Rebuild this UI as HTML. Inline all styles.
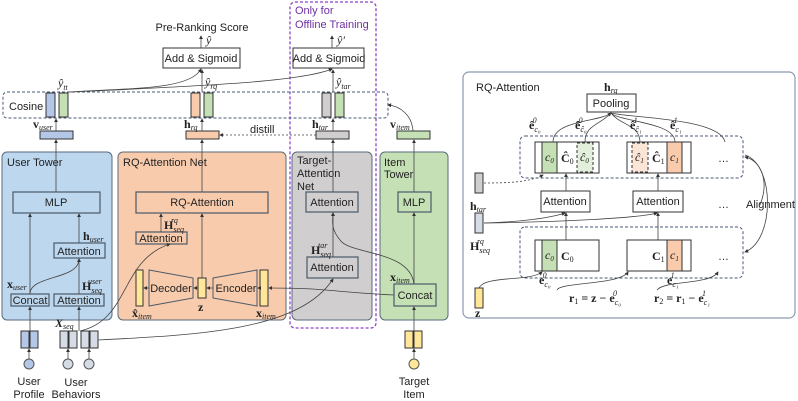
<!DOCTYPE html>
<html><head><meta charset="utf-8"><style>
html,body{margin:0;padding:0;background:#fff;}
svg{display:block;font-family:"Liberation Sans",sans-serif;}
.t{font-size:11px;fill:#222;}
.m{font-family:"Liberation Serif",serif;font-size:12px;fill:#222;}
.b{font-weight:bold;}
.i{font-style:italic;}
.s{font-size:8px;font-style:italic;}
.ln{stroke:#444;stroke-width:0.8;fill:none;}
.bx{fill:none;stroke:#4a5a6a;stroke-width:1.2;}
</style></head><body>
<svg width="798" height="401" viewBox="0 0 798 401" xmlns="http://www.w3.org/2000/svg">
<defs><marker id="a" markerWidth="5" markerHeight="5" refX="4" refY="2.5" orient="auto"><path d="M0,0L5,2.5L0,5z" fill="#333"/></marker></defs>

<!-- towers -->
<rect x="2" y="152" width="110" height="168" rx="5" fill="#bdd7ee" stroke="#5a6b7c"/>
<rect x="118" y="152" width="168" height="168" rx="5" fill="#f8cbad" stroke="#5a6b7c"/>
<rect x="292" y="152" width="80" height="168" rx="5" fill="#d0cece" stroke="#5a6b7c"/>
<rect x="380" y="152" width="68" height="168" rx="5" fill="#c5e0b4" stroke="#5a6b7c"/>
<text class="t" x="7" y="166" font-size="12">User Tower</text>
<text class="t" x="123" y="166" font-size="12">RQ-Attention Net</text>
<text class="t" x="297" y="164">Target-</text><text class="t" x="297" y="177">Attention</text><text class="t" x="297" y="190">Net</text>
<text class="t" x="384" y="166">Item</text><text class="t" x="384" y="178">Tower</text>

<!-- purple dashed -->
<rect x="290" y="2" width="86" height="326" rx="5" fill="none" stroke="#8e44c8" stroke-width="1.3" stroke-dasharray="3,2"/>
<text x="295" y="14" font-size="11" fill="#7030a0">Only for</text>
<text x="295" y="28" font-size="11" fill="#7030a0">Offline Training</text>

<!-- top -->
<text class="t" x="202" y="31" text-anchor="middle" font-size="10">Pre-Ranking Score</text>
<rect x="163" y="48" width="77" height="20" fill="#fff" stroke="#333"/>
<text class="t" x="201" y="62" text-anchor="middle">Add &amp; Sigmoid</text>
<rect x="293" y="48" width="71" height="20" fill="#fff" stroke="#333"/>
<text class="t" x="329" y="62" text-anchor="middle">Add &amp; Sigmoid</text>
<line class="ln" x1="201" y1="48" x2="201" y2="36" marker-end="url(#a)"/>
<line class="ln" x1="332" y1="48" x2="332" y2="36" marker-end="url(#a)"/>
<text class="m i" x="206" y="44">ŷ</text><text class="m i" x="337" y="44">ŷ′</text>

<!-- cosine -->
<rect x="3" y="92" width="385" height="26" rx="4" fill="none" stroke="#4a5a7a" stroke-dasharray="3,2"/>
<text class="t" x="9" y="110">Cosine</text>
<rect x="46" y="93" width="9" height="24" fill="#b4c7e7" stroke="#333"/>
<rect x="59" y="93" width="9" height="24" fill="#c5e0b4" stroke="#333"/>
<rect x="191" y="93" width="9" height="24" fill="#f8cbad" stroke="#333"/>
<rect x="204" y="93" width="9" height="24" fill="#c5e0b4" stroke="#333"/>
<rect x="322" y="93" width="9" height="24" fill="#d0cece" stroke="#333"/>
<rect x="335" y="93" width="9" height="24" fill="#c5e0b4" stroke="#333"/>
<text class="m i" x="58" y="87">ŷ<tspan class="s" dy="3">tt</tspan></text>
<text class="m i" x="205" y="86">ŷ<tspan class="s" dy="3">rq</tspan></text>
<text class="m i" x="336" y="86">ŷ<tspan class="s" dy="3">tar</tspan></text>
<path class="ln" d="M70,92 C130,88 190,90 201,69" marker-end="url(#a)"/>
<path class="ln" d="M70,92 C200,86 300,82 332,69" marker-end="url(#a)"/>
<line class="ln" x1="202" y1="92" x2="202" y2="70" marker-end="url(#a)"/>
<line class="ln" x1="333" y1="92" x2="333" y2="70" marker-end="url(#a)"/>

<!-- small vectors -->
<rect x="40" y="131" width="33" height="8" fill="#b4c7e7" stroke="#333"/>
<rect x="186" y="131" width="33" height="8" fill="#f8cbad" stroke="#333"/>
<rect x="316" y="131" width="33" height="8" fill="#d0cece" stroke="#333"/>
<rect x="397" y="131" width="33" height="8" fill="#c5e0b4" stroke="#333"/>
<text class="m b" x="33" y="128">v<tspan class="s" font-weight="normal" dy="2">user</tspan></text>
<text class="m b" x="184" y="128">h<tspan class="s" font-weight="normal" dy="2">rq</tspan></text>
<text class="m b" x="312" y="128">h<tspan class="s" font-weight="normal" dy="2">tar</tspan></text>
<text class="m b" x="390" y="128">v<tspan class="s" font-weight="normal" dy="2">item</tspan></text>
<line class="ln" x1="56" y1="131" x2="56" y2="119" marker-end="url(#a)"/>
<line class="ln" x1="202" y1="131" x2="202" y2="119" marker-end="url(#a)"/>
<line class="ln" x1="333" y1="131" x2="333" y2="119" marker-end="url(#a)"/>
<path class="ln" d="M413,131 C412,115 400,106 388,105" marker-end="url(#a)"/>
<line class="ln" x1="316" y1="135" x2="220" y2="135" stroke-dasharray="2,2" marker-end="url(#a)"/>
<text class="t" x="250" y="133">distill</text>
<line class="ln" x1="56" y1="192" x2="56" y2="140" marker-end="url(#a)"/>
<line class="ln" x1="202" y1="192" x2="202" y2="140" marker-end="url(#a)"/>
<line class="ln" x1="333" y1="192" x2="333" y2="140" marker-end="url(#a)"/>
<line class="ln" x1="414" y1="192" x2="414" y2="140" marker-end="url(#a)"/>

<!-- user tower -->
<rect x="13" y="192" width="87" height="21" class="bx"/><text class="t" x="56" y="206" text-anchor="middle">MLP</text>
<rect x="54" y="243" width="51" height="15" class="bx"/><text class="t" x="79" y="255" text-anchor="middle">Attention</text>
<rect x="11" y="294" width="38" height="12" class="bx"/><text class="t" x="30" y="304" text-anchor="middle">Concat</text>
<rect x="54" y="294" width="50" height="12" class="bx"/><text class="t" x="79" y="304" text-anchor="middle">Attention</text>
<line class="ln" x1="30" y1="294" x2="30" y2="214" marker-end="url(#a)"/>
<line class="ln" x1="79" y1="243" x2="79" y2="214" marker-end="url(#a)"/>
<line class="ln" x1="79" y1="294" x2="79" y2="259" marker-end="url(#a)"/>
<path class="ln" d="M30,294 C30,275 79,280 79,259" marker-end="url(#a)"/>
<text class="m b" x="83" y="240">h<tspan class="s" font-weight="normal" dy="2">user</tspan></text>
<text class="m b" x="7" y="288">x<tspan class="s" font-weight="normal" dy="2">user</tspan></text>
<text class="m b" x="82" y="290">H<tspan class="s" font-weight="normal" dy="3">seq</tspan><tspan class="s" font-weight="normal" dx="-14" dy="-9">user</tspan></text>

<!-- RQ net -->
<rect x="136" y="192" width="132" height="21" class="bx"/><text class="t" x="202" y="206" text-anchor="middle">RQ-Attention</text>
<rect x="136" y="232" width="51" height="12" class="bx"/><text class="t" x="161" y="242" text-anchor="middle">Attention</text>
<line class="ln" x1="161" y1="232" x2="161" y2="214" marker-end="url(#a)"/>
<line class="ln" x1="202" y1="278" x2="202" y2="214" marker-end="url(#a)"/>
<text class="m b" x="164" y="229">H<tspan class="s" font-weight="normal" dy="3">seq</tspan><tspan class="s" font-weight="normal" dx="-13" dy="-9">rq</tspan></text>
<rect x="136" y="270" width="7" height="36" fill="#ffe699" stroke="#333"/>
<polygon points="149,270 193,278 193,298 149,306" fill="#f8cbad" stroke="#4a5a6a"/>
<text class="t" x="171" y="292" text-anchor="middle" font-size="12">Decoder</text>
<rect x="198" y="278" width="8" height="20" fill="#ffe699" stroke="#333"/>
<polygon points="213,278 257,270 257,306 213,298" fill="#f8cbad" stroke="#4a5a6a"/>
<text class="t" x="236" y="292" text-anchor="middle" font-size="12">Encoder</text>
<rect x="260" y="270" width="8" height="36" fill="#ffe699" stroke="#333"/>
<line class="ln" x1="149" y1="288" x2="144" y2="288" marker-end="url(#a)"/>
<line class="ln" x1="198" y1="288" x2="194" y2="288" marker-end="url(#a)"/>
<line class="ln" x1="213" y1="288" x2="207" y2="288" marker-end="url(#a)"/>
<line class="ln" x1="260" y1="288" x2="258" y2="288" marker-end="url(#a)"/>
<text class="m b" x="132" y="317">x̂<tspan class="s" font-weight="normal" dy="2">item</tspan></text>
<text class="m b" x="198" y="311">z</text>
<text class="m b" x="256" y="317">x<tspan class="s" font-weight="normal" dy="2">item</tspan></text>

<!-- target net -->
<rect x="306" y="192" width="52" height="20" class="bx"/><text class="t" x="332" y="206" text-anchor="middle">Attention</text>
<rect x="307" y="257" width="51" height="21" class="bx"/><text class="t" x="332" y="271" text-anchor="middle">Attention</text>
<line class="ln" x1="333" y1="257" x2="333" y2="213" marker-end="url(#a)"/>
<text class="m b" x="311" y="254">H<tspan class="s" font-weight="normal" dy="3">seq</tspan><tspan class="s" font-weight="normal" dx="-13" dy="-9">tar</tspan></text>

<!-- item tower -->
<rect x="398" y="192" width="33" height="20" class="bx"/><text class="t" x="414" y="206" text-anchor="middle">MLP</text>
<rect x="394" y="284" width="42" height="22" class="bx"/><text class="t" x="415" y="299" text-anchor="middle">Concat</text>
<line class="ln" x1="414" y1="284" x2="414" y2="213" marker-end="url(#a)"/>
<text class="m b" x="390" y="281">x<tspan class="s" font-weight="normal" dy="2">item</tspan></text>
<path class="ln" d="M394,295 C330,292 330,288 269,288" marker-end="url(#a)"/>
<path class="ln" d="M414,284 C410,250 350,255 340,240 C330,228 333,220 333,213" marker-end="url(#a)"/>

<!-- inputs -->
<rect x="21" y="331" width="8" height="17" fill="#b4c7e7" stroke="#333"/><rect x="30" y="331" width="8" height="17" fill="#b4c7e7" stroke="#333"/>
<rect x="60" y="331" width="8" height="17" fill="#d6dce5" stroke="#333"/><rect x="69" y="331" width="8" height="17" fill="#d6dce5" stroke="#333"/>
<rect x="81" y="331" width="8" height="17" fill="#d6dce5" stroke="#333"/><rect x="90" y="331" width="8" height="17" fill="#d6dce5" stroke="#333"/>
<rect x="405" y="331" width="8" height="17" fill="#ffe699" stroke="#333"/><rect x="414" y="331" width="8" height="17" fill="#ffe699" stroke="#333"/>
<circle cx="29" cy="364" r="5" fill="#b4c7e7" stroke="#555"/>
<circle cx="68" cy="364" r="5" fill="#d6dce5" stroke="#555"/>
<circle cx="89" cy="364" r="5" fill="#d6dce5" stroke="#555"/>
<circle cx="414" cy="364" r="5" fill="#ffe699" stroke="#555"/>
<line class="ln" x1="29" y1="359" x2="29" y2="349" marker-end="url(#a)"/>
<line class="ln" x1="68" y1="359" x2="68" y2="349" marker-end="url(#a)"/>
<line class="ln" x1="89" y1="359" x2="89" y2="349" marker-end="url(#a)"/>
<line class="ln" x1="414" y1="359" x2="414" y2="349" marker-end="url(#a)"/>
<line class="ln" x1="30" y1="331" x2="30" y2="307" marker-end="url(#a)"/>
<line class="ln" x1="79" y1="331" x2="79" y2="307" marker-end="url(#a)"/>
<line class="ln" x1="414" y1="331" x2="414" y2="307" marker-end="url(#a)"/>
<path class="ln" d="M80,331 C130,320 120,260 170,244" marker-end="url(#a)"/>
<path class="ln" d="M98,340 C200,335 300,330 333,279" marker-end="url(#a)"/>
<text class="m b i" x="55" y="327">X<tspan class="s" font-weight="normal" dy="2">seq</tspan></text>
<text class="t" x="29" y="385" text-anchor="middle" font-size="10">User</text><text class="t" x="29" y="398" text-anchor="middle" font-size="10">Profile</text>
<text class="t" x="76" y="386" text-anchor="middle" font-size="10">User</text><text class="t" x="76" y="398" text-anchor="middle" font-size="10">Behaviors</text>
<text class="t" x="414" y="385" text-anchor="middle" font-size="10">Target</text><text class="t" x="414" y="398" text-anchor="middle" font-size="10">Item</text>

<!-- right panel -->
<rect x="463" y="72" width="332" height="246" rx="6" fill="none" stroke="#8a9ab0" stroke-width="1.2"/>
<text class="t" x="476" y="91" font-size="10">RQ-Attention</text>
<text class="m b" x="604" y="91">h<tspan class="s" font-weight="normal" dy="2">rq</tspan></text>
<rect x="587" y="94" width="49" height="18" fill="#fff" stroke="#333"/><text class="t" x="611" y="107" text-anchor="middle" font-size="10">Pooling</text>
<rect x="520" y="136" width="223" height="42" rx="5" fill="none" stroke="#4a5a7a" stroke-dasharray="3,2"/>
<rect x="520" y="227" width="223" height="51" rx="5" fill="none" stroke="#4a5a7a" stroke-dasharray="3,2"/>
<rect x="535" y="142" width="64" height="31" fill="#fff" stroke="#333"/>
<rect x="542" y="142" width="15" height="31" fill="#c5e0b4" stroke="#333"/>
<rect x="577" y="143" width="16" height="29" fill="#e2efda" stroke="#333" stroke-dasharray="3,2"/>
<text class="m i" x="545" y="161" font-size="10">c<tspan font-size="7" dy="2">0</tspan></text>
<text class="m b" x="561" y="162">Ĉ<tspan font-size="8" font-weight="normal" dy="2">0</tspan></text>
<text class="m i" x="580" y="161" font-size="10">ĉ<tspan font-size="7" dy="2">0</tspan></text>
<rect x="627" y="142" width="64" height="31" fill="#fff" stroke="#333"/>
<rect x="632" y="143" width="16" height="29" fill="#fbe5d6" stroke="#333" stroke-dasharray="3,2"/>
<rect x="667" y="142" width="15" height="31" fill="#f8cbad" stroke="#333"/>
<text class="m i" x="635" y="161" font-size="10">ĉ<tspan font-size="7" dy="2">1</tspan></text>
<text class="m b" x="652" y="162">Ĉ<tspan font-size="8" font-weight="normal" dy="2">1</tspan></text>
<text class="m i" x="670" y="161" font-size="10">c<tspan font-size="7" dy="2">1</tspan></text>
<text class="t" x="718" y="162">…</text>
<rect x="541" y="191" width="49" height="21" fill="#fff" stroke="#333"/><text class="t" x="565" y="205" text-anchor="middle" font-size="10">Attention</text>
<rect x="633" y="191" width="50" height="21" fill="#fff" stroke="#333"/><text class="t" x="658" y="205" text-anchor="middle" font-size="10">Attention</text>
<text class="t" x="718" y="208">…</text>
<text class="t" x="746" y="208" font-size="10">Alignment</text>
<line class="ln" x1="566" y1="240" x2="566" y2="213" marker-end="url(#a)"/>
<line class="ln" x1="566" y1="191" x2="566" y2="174" marker-end="url(#a)"/>
<line class="ln" x1="658" y1="240" x2="658" y2="213" marker-end="url(#a)"/>
<line class="ln" x1="658" y1="191" x2="658" y2="174" marker-end="url(#a)"/>
<rect x="535" y="240" width="64" height="31" fill="#fff" stroke="#333"/>
<rect x="542" y="240" width="15" height="31" fill="#c5e0b4" stroke="#333"/>
<text class="m i" x="545" y="259" font-size="10">c<tspan font-size="7" dy="2">0</tspan></text>
<text class="m b" x="561" y="260">C<tspan font-size="8" font-weight="normal" dy="2">0</tspan></text>
<rect x="627" y="240" width="64" height="31" fill="#fff" stroke="#333"/>
<rect x="667" y="240" width="15" height="31" fill="#f8cbad" stroke="#333"/>
<text class="m b" x="652" y="260">C<tspan font-size="8" font-weight="normal" dy="2">1</tspan></text>
<text class="m i" x="670" y="259" font-size="10">c<tspan font-size="7" dy="2">1</tspan></text>
<text class="t" x="718" y="260">…</text>
<rect x="475" y="173" width="8" height="20" fill="#d0cece" stroke="#333"/>
<text class="m b" x="470" y="210">h<tspan class="s" font-weight="normal" dy="2">tar</tspan></text>
<rect x="475" y="213" width="8" height="20" fill="#d6dce5" stroke="#333"/>
<text class="m b" x="470" y="250">H<tspan class="s" font-weight="normal" dy="3">seq</tspan><tspan class="s" font-weight="normal" dx="-13" dy="-9">rq</tspan></text>
<rect x="475" y="288" width="8" height="20" fill="#ffe699" stroke="#333"/>
<text class="m b" x="475" y="317">z</text>
<path class="ln" d="M484,183 C510,183 530,182 543,175" stroke-dasharray="2,2" marker-end="url(#a)"/>
<path class="ln" d="M484,223 C520,222 550,218 565,213" marker-end="url(#a)"/>
<path class="ln" d="M484,223 C560,222 640,218 657,213" marker-end="url(#a)"/>
<path class="ln" d="M479,288 C485,275 530,282 542,272" marker-end="url(#a)"/>
<path class="ln" d="M557,290 C560,282 620,285 628,272" marker-end="url(#a)"/>
<path class="ln" d="M657,290 C665,280 710,285 718,272" marker-end="url(#a)"/>
<path class="ln" d="M553,142 C553,120 600,122 611,113" marker-end="url(#a)"/>
<path class="ln" d="M585,142 C585,125 600,125 611,113"/>
<path class="ln" d="M640,142 C640,125 620,125 611,113"/>
<path class="ln" d="M675,142 C675,122 620,122 611,113"/>
<path class="ln" d="M725,142 C720,118 630,118 611,113"/>
<text class="m b" x="529" y="129">ê<tspan class="s" font-weight="normal" dy="3">c₀</tspan><tspan class="s" font-weight="normal" dx="-8" dy="-9">0</tspan></text>
<text class="m b" x="575" y="129">ê<tspan class="s" font-weight="normal" dy="3">ĉ₀</tspan><tspan class="s" font-weight="normal" dx="-8" dy="-9">0</tspan></text>
<text class="m b" x="630" y="129">ê<tspan class="s" font-weight="normal" dy="3">ĉ₁</tspan><tspan class="s" font-weight="normal" dx="-8" dy="-9">1</tspan></text>
<text class="m b" x="670" y="129">ê<tspan class="s" font-weight="normal" dy="3">c₁</tspan><tspan class="s" font-weight="normal" dx="-8" dy="-9">1</tspan></text>
<text class="m b" x="539" y="284">e<tspan class="s" font-weight="normal" dy="3">c₀</tspan><tspan class="s" font-weight="normal" dx="-8" dy="-9">0</tspan></text>
<text class="m b" x="667" y="284">e<tspan class="s" font-weight="normal" dy="3">c₁</tspan><tspan class="s" font-weight="normal" dx="-8" dy="-9">1</tspan></text>
<text class="m b" x="569" y="302">r<tspan font-size="8" font-weight="normal" dy="2">1</tspan><tspan dy="-2"> = z − e</tspan><tspan class="s" font-weight="normal" dy="3">c₀</tspan><tspan class="s" font-weight="normal" dx="-8" dy="-9">0</tspan></text>
<text class="m b" x="654" y="302">r<tspan font-size="8" font-weight="normal" dy="2">2</tspan><tspan dy="-2"> = r</tspan><tspan font-size="8" font-weight="normal" dy="2">1</tspan><tspan dy="-2"> − e</tspan><tspan class="s" font-weight="normal" dy="3">c₁</tspan><tspan class="s" font-weight="normal" dx="-8" dy="-9">1</tspan></text>
<path class="ln" d="M745,155 C775,165 775,240 745,252" marker-end="url(#a)"/>
<path class="ln" d="M760,205 C770,180 760,160 745,157" marker-end="url(#a)"/>
</svg>
</body></html>
